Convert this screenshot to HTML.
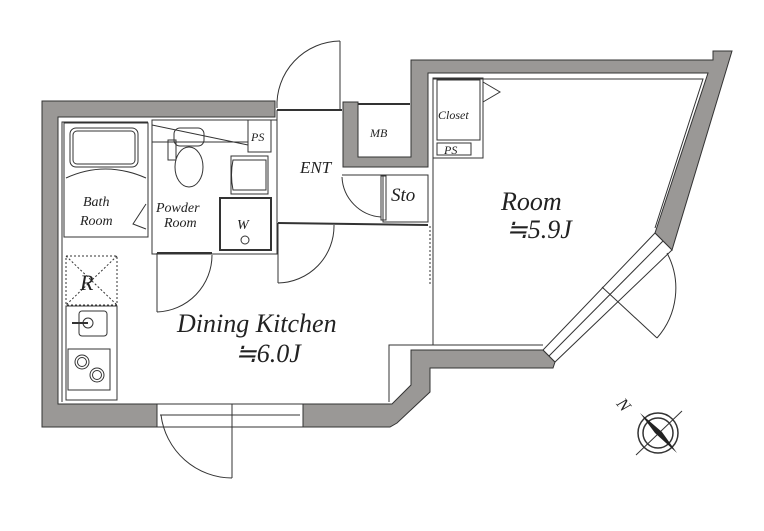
<!DOCTYPE html>
<html><head><meta charset="utf-8"><style>
html,body{margin:0;padding:0;background:#fff}
svg{display:block}
text{font-family:"Liberation Serif",serif;font-style:italic;fill:#222}
</style></head><body>
<svg width="764" height="531" viewBox="0 0 764 531" xmlns="http://www.w3.org/2000/svg">
<g fill="#9a9896" stroke="#333" stroke-width="1">
<polygon points="42,101 275,101 275,117 58,117 58,404 157,404 157,427 42,427"/>
<polygon points="303,404 392,404 411,385 411,350 543,350 555,362 553,368 430,368 430,392 397,423 390,427 303,427"/>
<polygon points="411,60 713,60 713,51 732,51 672,250 655,233 708,73 428,73 428,167 343,167 343,102 358,102 358,157 411,157"/>
</g>
<g fill="none" stroke="#333" stroke-width="1">
<polyline points="62,402 62,122 148,122"/>
<polyline points="433,79 703,79 655,228"/>
<line x1="433" y1="79" x2="433" y2="345"/>
<polyline points="389,402 389,345 543,345"/>
<rect x="64" y="123" width="84" height="114"/>
<rect x="70" y="128" width="68" height="39" rx="6"/>
<rect x="73" y="131" width="62" height="33" rx="4"/>
<path d="M66,178 Q105,160 146,178"/>
<path d="M146,204 L133,224 L146,229"/>
<rect x="152" y="120" width="125" height="134"/>
<line x1="152" y1="125" x2="248" y2="145"/>
<line x1="152" y1="142" x2="248" y2="142"/>
<ellipse cx="189" cy="167" rx="14" ry="20"/>
<rect x="174" y="128" width="30" height="18" rx="6"/>
<rect x="168" y="140" width="8" height="20"/>
<rect x="248" y="120" width="23" height="32"/>
<rect x="231" y="156" width="37" height="38"/>
<path d="M233,160 Q230,175 233,190 L266,190 L266,160 Z"/>
<rect x="220" y="198" width="51" height="52" stroke-width="2"/>
<circle cx="245" cy="240" r="4"/>
<line x1="157" y1="253" x2="212" y2="253" stroke-width="2"/>
<line x1="157" y1="253" x2="157" y2="312"/>
<path d="M157,312 A57,57 0 0 0 212,255"/>
<line x1="277" y1="110" x2="277" y2="225"/>
<line x1="277" y1="110" x2="342" y2="110" stroke-width="2"/>
<line x1="340" y1="41" x2="340" y2="110"/>
<path d="M340,41 A64,64 0 0 0 277,108"/>
<line x1="278" y1="223" x2="428" y2="225" stroke-width="2"/>
<line x1="278" y1="223" x2="278" y2="283"/>
<path d="M278,283 A57,57 0 0 0 334,225"/>
<line x1="358" y1="104" x2="410" y2="104" stroke-width="2"/>
<rect x="383" y="175" width="45" height="47"/>
<line x1="342" y1="175" x2="383" y2="175"/>
<rect x="381" y="176" width="5" height="44"/>
<path d="M342,177 A42,42 0 0 0 381,217"/>
<line x1="430" y1="226" x2="430" y2="285" stroke-dasharray="2,2"/>
<rect x="433" y="78" width="50" height="80"/>
<rect x="437" y="80" width="43" height="60"/>
<rect x="437" y="143" width="34" height="12"/>
<polyline points="483,82 500,92 483,102"/>
<rect x="66" y="256" width="51" height="49" stroke-dasharray="2,2"/>
<line x1="66" y1="256" x2="117" y2="305" stroke-dasharray="2,2"/>
<line x1="117" y1="256" x2="66" y2="305" stroke-dasharray="2,2"/>
<rect x="66" y="306" width="51" height="94"/>
<rect x="79" y="311" width="28" height="25" rx="3"/>
<circle cx="88" cy="323" r="5"/>
<line x1="72" y1="323" x2="88" y2="323" stroke-width="2"/>
<rect x="68" y="349" width="42" height="41"/>
<circle cx="82" cy="362" r="7"/><circle cx="82" cy="362" r="4.5"/>
<circle cx="97" cy="375" r="7"/><circle cx="97" cy="375" r="4.5"/>
<rect x="157" y="404" width="146" height="23" fill="#fff"/>
<line x1="160" y1="415" x2="300" y2="415"/>
<line x1="232" y1="404" x2="232" y2="415"/>
<line x1="232" y1="415" x2="232" y2="478"/>
<path d="M232,478 A72,72 0 0 1 161,415"/>
<polygon points="655,233 672,250 555,362 543,350" fill="#fff"/>
<line x1="663" y1="241" x2="549" y2="356"/>
<line x1="602" y1="287" x2="657" y2="338"/>
<path d="M657,338 A75,75 0 0 0 667,253"/>
<circle cx="658" cy="433" r="20" stroke-width="1.5"/><circle cx="658" cy="433" r="15" stroke-width="1.5"/>
<line x1="636" y1="455" x2="682" y2="411"/>
</g>
<polygon points="640,413 662,432 677,453 655,433" fill="#222"/>
<text x="619" y="413" font-size="17" font-style="normal" transform="rotate(50 627 405)">N</text>
<g font-size="14">
<text x="83" y="206">Bath</text>
<text x="80" y="225">Room</text>
<text x="156" y="212">Powder</text>
<text x="164" y="227">Room</text>
<text x="237" y="229" font-size="14">W</text>
<text x="251" y="141" font-size="12">PS</text>
<text x="370" y="137" font-size="12">MB</text>
<text x="438" y="119" font-size="12">Closet</text>
<text x="444" y="154" font-size="12">PS</text>
<text x="300" y="173" font-size="17">ENT</text>
<text x="391" y="201" font-size="19">Sto</text>
<text x="80" y="290" font-size="22">R</text>
</g>
<text x="177" y="332" font-size="26">Dining Kitchen</text>
<text x="235" y="362" font-size="26">≒6.0J</text>
<text x="501" y="210" font-size="26">Room</text>
<text x="506" y="238" font-size="26">≒5.9J</text>
</svg>
</body></html>
